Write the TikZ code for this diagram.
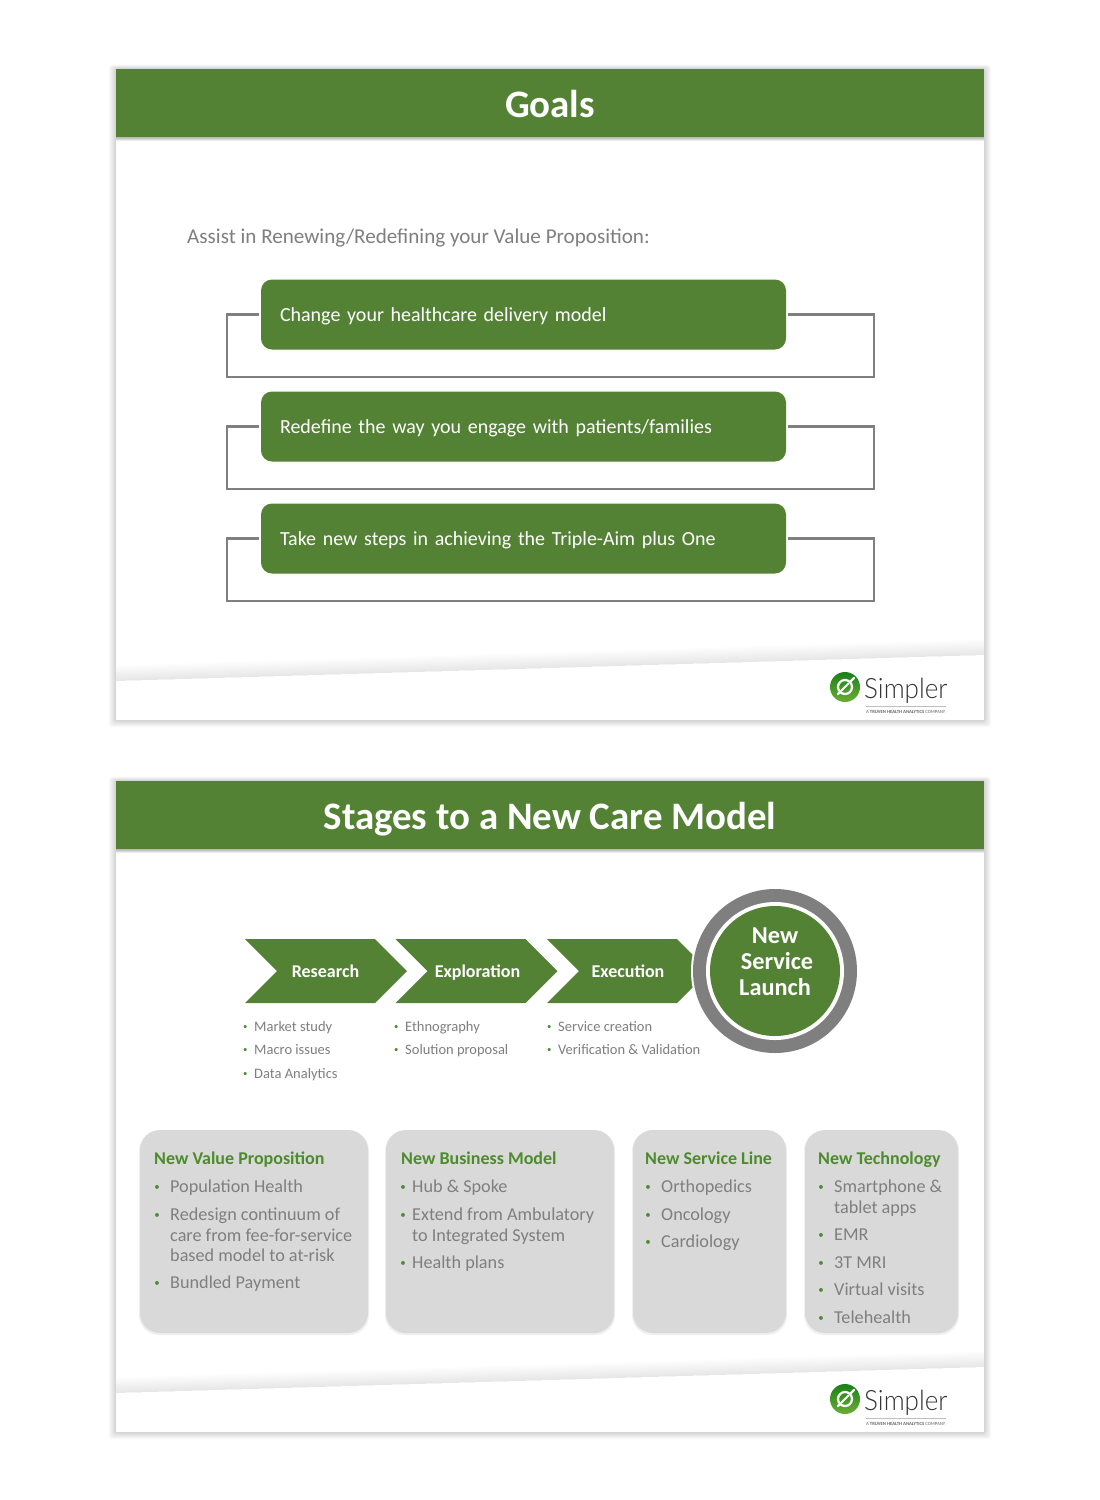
\documentclass[tikz,border=0pt]{standalone}
\usepackage{fontspec}
\setmainfont{Carlito}
\newfontfamily\lightfont{Lato Light}
\usepackage{tikz}
\usetikzlibrary{calc}

\definecolor{bandgreen}{HTML}{548235}
\definecolor{headgreen}{HTML}{4C8C2B}
\definecolor{textgray}{HTML}{7F7F7F}
\definecolor{panelgray}{HTML}{D9D9D9}

\newcommand{\fs}[2]{\fontsize{#1}{#2}\selectfont}
\newcommand{\bul}[1]{\strut\llap{\textcolor{headgreen}{\raisebox{.11em}{\scalebox{.6}{•}}}\hspace{#1}}}

\tikzset{
  bandtitle/.style={anchor=base,text=white,font=\fs{38.9}{40}\bfseries,inner sep=0},
  goalbox/.style={fill=bandgreen,rounded corners=11,minimum height=70pt,text width=487pt,
    inner xsep=19pt,inner ysep=0,align=left,text=white,font=\fs{20}{24},text height=16pt,text depth=2pt},
  bracket/.style={draw=textgray,line width=2.2pt},
  chevron/.style={fill=bandgreen},
  chevtext/.style={anchor=base,text=white,font=\fs{18}{20}\bfseries,inner sep=0},
  smallitem/.style={anchor=north west,inner sep=0,text=textgray,font=\fs{14.5}{16}},
  panel/.style={fill=panelgray,rounded corners=20},
  panelshadow/.style={fill=panelgray!70!black,opacity=.15,rounded corners=20},
  paneltitle/.style={anchor=base west,inner sep=0,text=headgreen,font=\fs{18}{20}\bfseries},
  panelitem/.style={anchor=north west,inner sep=0,text=textgray,font=\fs{18.2}{20.5},align=left},
}

% slide frame, header band, footer wedge and logo; #1 = name prefix, #2 = y offset
\newcommand{\slideframe}[2]{
\begin{scope}[shift={(0,#2)}]
\foreach \s in {1,2,...,7}
  \fill [black,opacity=.024,rounded corners=3] (116-\s,69-\s*.6) rectangle (984+\s,720+\s);
\fill [white] (116,69) rectangle (984,720);
\foreach \s in {1,2,...,12}
  \fill [black,opacity=.007] (116,681-\s*1.3) -- (984,655-\s*1.3) -- (984,655) -- (116,681) -- cycle;
\foreach \s in {1,2,3,4}
  \fill [black,opacity=.08] (116,137) rectangle (984,137+\s);
\fill [bandgreen] (116,69) rectangle (984,137);
\shade [top color=green!45!black!90!white,bottom color=green!55!yellow!60!black!80!white] (845,687) circle (15pt);
\draw [white,line width=2.2pt] (845,687) circle (7pt);
\draw [white,line width=2pt] (841,691) -- (849,683);
\draw [white,line width=2.4pt,line cap=round] (851,681) -- (854,678);
\draw [white,line width=2.4pt,line cap=round] (839,693) -- (838,694);
\node (#1simpler) [anchor=base west,inner sep=0,text=black!80,font=\fs{28}{32}\lightfont] at (864,698) {\scalebox{.93}[1]{Simpler}};
\draw [black!25,line width=.5pt] (866,706) -- (946,706);
\node (#1truven) [anchor=base west,inner sep=0,text=black!60,font=\fs{4.7}{5}] at (866,713) {A \textbf{TRUVEN HEALTH ANALYTICS} COMPANY};
\end{scope}
}

\begin{document}
\begin{tikzpicture}[x=1pt,y=-1pt]

\useasboundingbox (0,0) rectangle (1100,1500);
\fill [white] (0,0) rectangle (1100,1500);

\slideframe{a}{0}
\slideframe{b}{712}

% goals slide
\node (goals) [bandtitle] at (550,117) {Goals};
\node (assist) [anchor=base west,inner sep=0,text=textgray,font=\fs{21.1}{24},align=left] at (187,243) {Assist in Renewing/Redefining your Value Proposition:};

\node (change) [goalbox] at (523.5,314.5) {Change your healthcare delivery model};
\node (redefine) [goalbox] at (523.5,426.5) {Redefine the way you engage with patients/families};
\node (steps) [goalbox] at (523.5,538.5) {Take new steps in achieving the Triple-Aim plus One};

\draw [bracket] ([xshift=-2]change.west) -| (227,377) -| (874,314.5) -- ([xshift=2]change.east);
\draw [bracket] ([xshift=-2]redefine.west) -| (227,489) -| (874,426.5) -- ([xshift=2]redefine.east);
\draw [bracket] ([xshift=-2]steps.west) -| (227,601) -| (874,538.5) -- ([xshift=2]steps.east);

% stages slide
\node (stages) [bandtitle] at (550,829) {Stages to a New Care Model};

\fill [chevron] (245,939) -- (375,939) -- (407,971) -- (375,1003) -- (245,1003) -- (277,971) -- cycle;
\fill [chevron] (395.5,939) -- (525.5,939) -- (557.5,971) -- (525.5,1003) -- (395.5,1003) -- (427.5,971) -- cycle;
\fill [chevron] (547,939) -- (677,939) -- (709,971) -- (677,1003) -- (547,1003) -- (579,971) -- cycle;

\node (research) [chevtext] at (325.5,977) {Research};
\node (exploration) [chevtext] at (477.5,977) {Exploration};
\node (execution) [chevtext] at (628,977) {Execution};

\fill [white] (775,971) circle (84pt);
\fill [textgray] (775,971) circle (82pt);
\fill [white] (775,971) circle (69pt);
\fill [bandgreen] (775,971) circle (65pt);
\node (launch) [text=white,font=\fs{24.3}{26}\bfseries,inner sep=0,align=center] at (775,962) {New\\\hspace{4pt}Service\\Launch};

\node (market) [smallitem] at (254,1020) {\bul{6.8pt}Market study};
\node (macro) [smallitem] at (254,1043) {\bul{6.8pt}Macro issues};
\node (data) [smallitem] at (254,1067) {\bul{6.8pt}Data Analytics};
\node (ethno) [smallitem] at (405,1020) {\bul{6.8pt}Ethnography};
\node (solution) [smallitem] at (405,1043) {\bul{6.8pt}Solution proposal};
\node (creation) [smallitem] at (558,1020) {\bul{6.8pt}Service creation};
\node (verify) [smallitem] at (558,1043) {\bul{6.8pt}Verification \& Validation};

% panels
\fill [panelshadow] (139,1131) rectangle (369,1335);
\fill [panelshadow] (385,1131) rectangle (615,1335);
\fill [panelshadow] (632,1131) rectangle (787,1335);
\fill [panelshadow] (804,1131) rectangle (959,1335);
\fill [panel] (140,1130) rectangle (368,1333);
\fill [panel] (386,1130) rectangle (614,1333);
\fill [panel] (633,1130) rectangle (786,1333);
\fill [panel] (805,1130) rectangle (958,1333);

\node (valuehead) [paneltitle] at (154,1164) {New Value Proposition};
\node (population) [panelitem] at (170,1178) {\bul{10.3pt}Population Health};
\node (redesign) [panelitem] at (170,1206) {\bul{10.3pt}Redesign continuum of\\care from fee-for-service\\based model to at-risk};
\node (bundled) [panelitem] at (170,1274) {\bul{10.3pt}Bundled Payment};

\node (bizhead) [paneltitle] at (401,1164) {New Business Model};
\node (hub) [panelitem] at (412,1178) {\bul{6.3pt}Hub \& Spoke};
\node (extend) [panelitem] at (412,1206) {\bul{6.3pt}Extend from Ambulatory\\to Integrated System};
\node (plans) [panelitem] at (412,1254) {\bul{6.3pt}Health plans};

\node (linehead) [paneltitle] at (645,1164) {New Service Line};
\node (ortho) [panelitem] at (661,1178) {\bul{10.3pt}Orthopedics};
\node (onco) [panelitem] at (661,1206) {\bul{10.3pt}Oncology};
\node (cardio) [panelitem] at (661,1233) {\bul{10.3pt}Cardiology};

\node (techhead) [paneltitle] at (818,1164) {New Technology};
\node (smart) [panelitem] at (834,1178) {\bul{10.3pt}Smartphone \&\\tablet apps};
\node (emr) [panelitem] at (834,1226) {\bul{10.3pt}EMR};
\node (mri) [panelitem] at (834,1254) {\bul{10.3pt}3T MRI};
\node (virtual) [panelitem] at (834,1281) {\bul{10.3pt}Virtual visits};
\node (tele) [panelitem] at (834,1309) {\bul{10.3pt}Telehealth};

\end{tikzpicture}
\end{document}
